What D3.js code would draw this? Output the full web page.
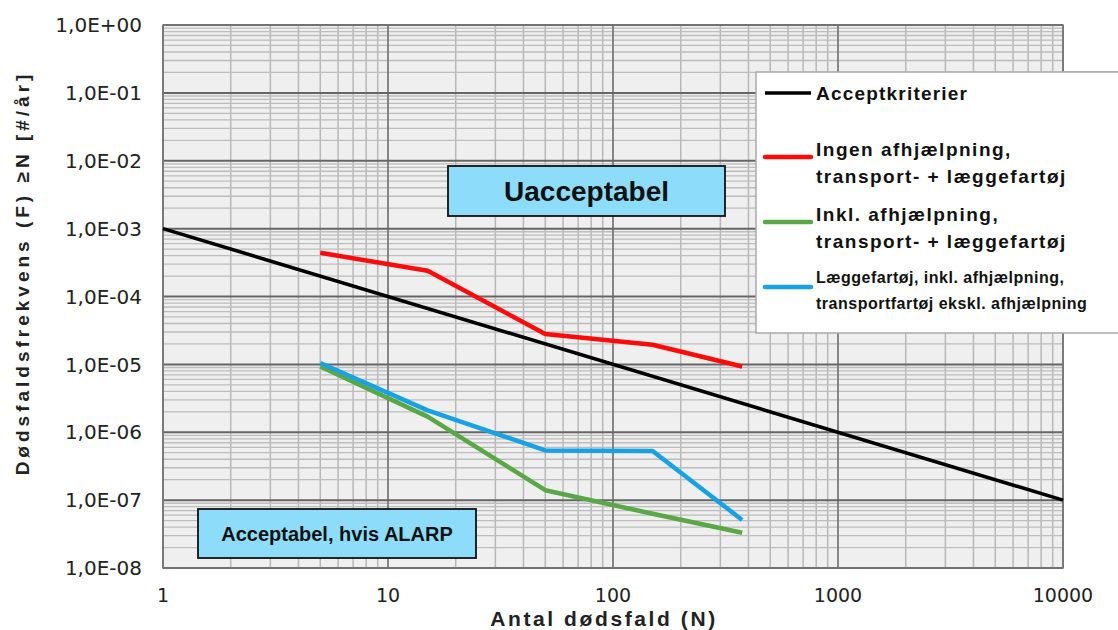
<!DOCTYPE html>
<html>
<head>
<meta charset="utf-8">
<script src="https://cdn.jsdelivr.net/npm/d3@7"></script>
<style>
  body { margin: 0; background: #fff; }
  svg { display: block; }
</style>
</head>
<body>
<div id="chart"></div>
<script>
var xTicks = [1, 10, 100, 1000, 10000];
var yTicks = [1, 1e-1, 1e-2, 1e-3, 1e-4, 1e-5, 1e-6, 1e-7, 1e-8];
var yTickLabels = ["1,0E+00", "1,0E-01", "1,0E-02", "1,0E-03", "1,0E-04", "1,0E-05", "1,0E-06", "1,0E-07", "1,0E-08"];

var acceptN = [1, 10000];
var acceptF = [1e-3, 1e-7];

var seriesN = [5, 15, 50, 150, 375];
var redF = [4.4e-4, 2.4e-4, 2.8e-5, 1.95e-5, 9.3e-6];
var greenF = [9.3e-6, 1.7e-6, 1.4e-7, 6.3e-8, 3.3e-8];
var blueF = [1.05e-5, 2.1e-6, 5.4e-7, 5.3e-7, 5.1e-8];

var legendLabels = [
    ["Acceptkriterier"],
    ["Ingen afhjælpning,", "transport- + læggefartøj"],
    ["Inkl. afhjælpning,", "transport- + læggefartøj"],
    ["Læggefartøj, inkl. afhjælpning,", "transportfartøj ekskl. afhjælpning"]
];
var colors = ["#000000", "#ff0a0a", "#5aa845", "#17a2e4"];

function init() {
    var w = 1118, h = 630;
    var left = 163, right = 1063, top = 25, bottom = 568;

    var svg = d3.select("#chart").append("svg")
        .attr("width", w).attr("height", h);

    var x = d3.scaleLog().domain([1, 10000]).range([left, right]);
    var y = d3.scaleLog().domain([1e-8, 1]).range([bottom, top]);

    svg.append("rect")
        .attr("x", left).attr("y", top)
        .attr("width", right - left).attr("height", bottom - top)
        .attr("fill", "#efefef");

    // minor grid
    var xMinor = [], yMinor = [];
    for (var d = 1; d < 10000; d *= 10)
        for (var k = 2; k <= 9; k++) xMinor.push(d * k);
    for (var e = 1e-8; e < 0.9; e *= 10)
        for (var k2 = 2; k2 <= 9; k2++) yMinor.push(e * k2);

    var grid = svg.append("g");
    grid.selectAll(".xm").data(xMinor).enter().append("line")
        .attr("x1", d => x(d)).attr("x2", d => x(d))
        .attr("y1", top).attr("y2", bottom)
        .attr("stroke", "#b8b8b8").attr("stroke-width", 1.5);
    grid.selectAll(".ym").data(yMinor).enter().append("line")
        .attr("x1", left).attr("x2", right)
        .attr("y1", d => y(d)).attr("y2", d => y(d))
        .attr("stroke", "#bdbdbd").attr("stroke-width", 1.3);
    grid.selectAll(".xM").data(xTicks).enter().append("line")
        .attr("x1", d => x(d)).attr("x2", d => x(d))
        .attr("y1", top).attr("y2", bottom)
        .attr("stroke", "#7a7a7a").attr("stroke-width", 1.8);
    grid.selectAll(".yM").data(yTicks).enter().append("line")
        .attr("x1", left).attr("x2", right)
        .attr("y1", d => y(d)).attr("y2", d => y(d))
        .attr("stroke", "#666").attr("stroke-width", 2);

    svg.append("rect")
        .attr("x", left).attr("y", top)
        .attr("width", right - left).attr("height", bottom - top)
        .attr("fill", "none").attr("stroke", "#777").attr("stroke-width", 1.5);

    // tick labels
    svg.selectAll(".yl").data(yTicks).enter().append("text")
        .attr("x", 142).attr("y", d => y(d))
        .attr("dy", "0.36em")
        .attr("text-anchor", "end")
        .style("font-family", "DejaVu Sans")
        .style("font-size", "20px")
        .attr("fill", "#222")
        .text((d, i) => yTickLabels[i]);

    svg.selectAll(".xl").data(xTicks).enter().append("text")
        .attr("x", d => x(d)).attr("y", 602)
        .attr("text-anchor", "middle")
        .style("font-family", "DejaVu Sans")
        .style("font-size", "19px")
        .attr("fill", "#222")
        .text(d => d);

    svg.append("text")
        .attr("x", 604).attr("y", 626)
        .attr("text-anchor", "middle")
        .style("font-family", "Liberation Sans")
        .style("font-weight", "bold")
        .style("font-size", "21px")
        .style("letter-spacing", "2.6px")
        .attr("fill", "#222")
        .text("Antal dødsfald (N)");

    svg.append("text")
        .attr("transform", "translate(29,273) rotate(-90)")
        .attr("text-anchor", "middle")
        .style("font-family", "Liberation Sans")
        .style("font-weight", "bold")
        .style("font-size", "19px")
        .style("letter-spacing", "4px")
        .attr("fill", "#222")
        .text("Dødsfaldsfrekvens (F) ≥N [#/år]");

    // lines
    var line = d3.line().x(d => x(d[0])).y(d => y(d[1]));
    var plotG = svg.append("g");
    plotG.append("path")
        .datum(acceptN.map((n, i) => [n, acceptF[i]]))
        .attr("d", line).attr("fill", "none")
        .attr("stroke", colors[0]).attr("stroke-width", 3.5);
    [redF, greenF, blueF].forEach(function (f, j) {
        plotG.append("path")
            .datum(seriesN.map((n, i) => [n, f[i]]))
            .attr("d", line).attr("fill", "none")
            .attr("stroke", colors[j + 1]).attr("stroke-width", 4.5)
            .attr("stroke-linejoin", "round");
    });

    // region boxes
    function box(x0, y0, x1, y1, label, size) {
        svg.append("rect")
            .attr("x", x0).attr("y", y0)
            .attr("width", x1 - x0).attr("height", y1 - y0)
            .attr("fill", "#8ddcfa").attr("stroke", "#111").attr("stroke-width", 1.8);
        svg.append("text")
            .attr("x", (x0 + x1) / 2).attr("y", (y0 + y1) / 2)
            .attr("dy", "0.36em")
            .attr("text-anchor", "middle")
            .style("font-family", "Liberation Sans")
            .style("font-weight", "bold")
            .style("font-size", size + "px")
            .attr("fill", "#111")
            .text(label);
    }
    box(448, 166, 725, 216, "Uacceptabel", 28);
    box(198, 509, 476, 558, "Acceptabel, hvis ALARP", 20);

    // legend
    var lg = svg.append("g");
    lg.append("line")
        .attr("x1", right).attr("x2", w).attr("y1", 72).attr("y2", 72)
        .attr("stroke", "#aaa").attr("stroke-width", 1.5);
    lg.append("rect")
        .attr("x", 756).attr("y", 72)
        .attr("width", w - 756 + 2).attr("height", 261)
        .attr("fill", "#fff").attr("stroke", "#aaa").attr("stroke-width", 1.5);

    var lineY = [93, 157, 222, 287];
    var textY = [[100], [156, 183], [221, 248], [283, 309]];
    var sizes = [19, 19, 19, 16];
    var spacing = [1.2, 1.5, 1.5, 0.5];
    legendLabels.forEach(function (lab, i) {
        lg.append("line")
            .attr("x1", 765).attr("x2", 811)
            .attr("y1", lineY[i]).attr("y2", lineY[i])
            .attr("stroke", colors[i]).attr("stroke-width", i === 0 ? 3.5 : 4.5)
            .attr("stroke-linecap", i === 0 ? "butt" : "round");
        lab.forEach(function (t, k) {
            lg.append("text")
                .attr("x", 816).attr("y", textY[i][k])
                .style("font-family", "Liberation Sans")
                .style("font-weight", "bold")
                .style("font-size", sizes[i] + "px")
                .style("letter-spacing", spacing[i] + "px")
                .attr("fill", "#111")
                .text(t);
        });
    });
}

window.onload = init;
</script>
</body>
</html>
